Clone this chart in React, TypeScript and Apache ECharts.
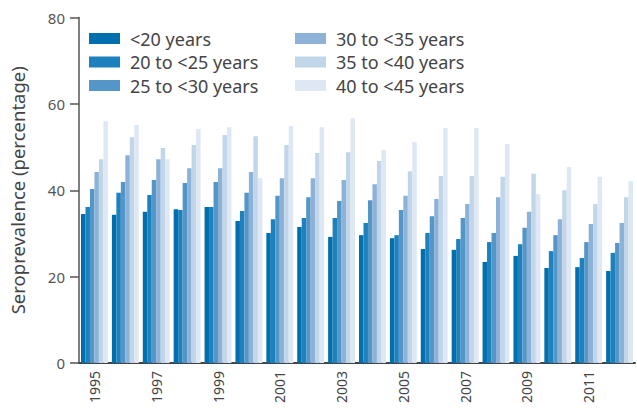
import React, { useEffect, useRef } from "react";
import * as echarts from "echarts";

const years = ["1995","1996","1997","1998","1999","2000","2001","2002","2003","2004","2005","2006","2007","2008","2009","2010","2011","2012"];
const seriesNames = ["<20 years", "20 to <25 years", "25 to <30 years", "30 to <35 years", "35 to <40 years", "40 to <45 years"];
const colors = ["#006fad", "#1c81bd", "#5596c8", "#8cb2d8", "#c2d6ea", "#dee8f4"];

const age1 = [34.5, 34.3, 35.0, 35.6, 36.1, 32.9, 30.1, 31.5, 29.2, 29.6, 28.9, 26.4, 26.2, 23.4, 24.8, 22.0, 22.2, 21.3];
const age2 = [36.1, 39.4, 38.9, 35.4, 36.1, 35.2, 33.3, 33.6, 33.6, 32.4, 29.6, 30.1, 28.7, 28.0, 27.5, 25.9, 24.3, 25.5];
const age3 = [40.3, 41.9, 42.4, 41.7, 41.9, 39.4, 38.7, 38.4, 37.5, 37.7, 35.4, 34.0, 33.6, 30.1, 31.3, 29.6, 28.0, 27.8];
const age4 = [44.2, 48.1, 47.2, 45.1, 45.1, 44.2, 42.8, 42.8, 42.4, 41.4, 38.7, 38.0, 36.8, 38.4, 35.0, 33.3, 32.2, 32.4];
const age5 = [47.2, 52.3, 49.8, 50.5, 52.8, 52.5, 50.5, 48.6, 48.8, 46.8, 44.4, 43.3, 43.3, 43.1, 43.8, 40.0, 36.8, 38.4];
const age6 = [56.0, 55.1, 47.2, 54.2, 54.6, 42.8, 54.9, 54.6, 56.7, 49.3, 51.2, 54.4, 54.4, 50.7, 39.1, 45.4, 43.1, 42.1];
const allSeries = [age1, age2, age3, age4, age5, age6];
const yTicks = [0, 20, 40, 60, 80];

const FONT = "'Noto Sans', sans-serif";

export default function App() {
  const ref = useRef<HTMLDivElement>(null);
  useEffect(() => {
    if (!ref.current) return;
    const chart = echarts.init(ref.current, null, { renderer: "svg" });
    const legendCommon = {
      orient: "vertical" as const,
      itemWidth: 31,
      itemHeight: 11,
      itemGap: 5.5,
      icon: "rect",
      textStyle: { color: "#444", fontSize: 18, fontFamily: FONT, lineHeight: 18, padding: [0, 0, 0, 5] },
      padding: 0,
    };
    chart.setOption({
      animation: false,
      color: colors,
      grid: { left: 77, right: 2, top: 17.5, bottom: 45, containLabel: false },
      legend: [
        { ...legendCommon, left: 89, top: 29.5, data: seriesNames.slice(0, 3) },
        { ...legendCommon, left: 295, top: 29.5, data: seriesNames.slice(3) },
      ],
      xAxis: {
        type: "category",
        data: years,
        axisLine: { lineStyle: { color: "#444", width: 2 } },
        axisTick: { show: false },
        axisLabel: { rotate: 90, interval: 1, color: "#444", fontSize: 14, fontFamily: FONT, margin: 8 },
      },
      yAxis: {
        type: "value",
        min: yTicks[0],
        max: yTicks[yTicks.length - 1],
        interval: 20,
        name: "Seroprevalence (percentage)",
        nameLocation: "middle",
        nameGap: 52,
        nameTextStyle: { color: "#444", fontSize: 18.5, fontFamily: FONT },
        splitLine: { show: false },
        axisLine: { show: true, lineStyle: { color: "#555", width: 1.5 } },
        axisTick: { show: true, length: 9, lineStyle: { color: "#555", width: 1.5 } },
        axisLabel: { color: "#555", fontSize: 15, fontFamily: FONT, margin: 14 },
      },
      series: allSeries.map((d, i) => ({
        name: seriesNames[i],
        type: "bar",
        data: d,
        barGap: "0%",
        barCategoryGap: "13%",
        itemStyle: { color: colors[i] },
      })),
    });
    return () => chart.dispose();
  }, []);
  return <div ref={ref} style={{ width: 637, height: 408, position: "absolute", left: 0, top: 0 }} />;
}
